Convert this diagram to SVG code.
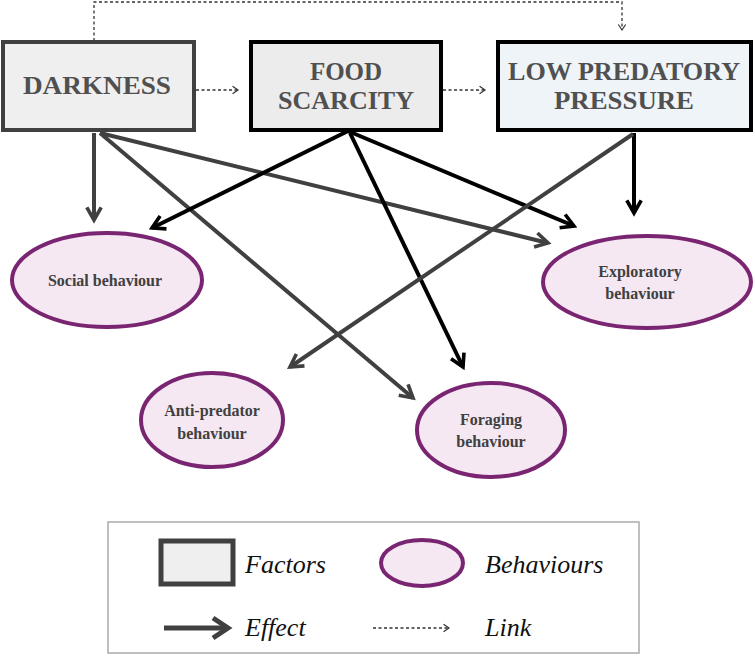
<svg xmlns="http://www.w3.org/2000/svg" width="755" height="656" viewBox="0 0 755 656">
<style>
text{font-family:'Liberation Serif','DejaVu Serif Condensed',serif}
.box{stroke-width:4}
.bt{font-weight:bold;font-size:25px;fill:#505050;text-anchor:middle}
.el{fill:#f5e8f3;stroke:#7a2572;stroke-width:4}
.et{font-weight:bold;font-size:16px;fill:#404040;text-anchor:middle}
.g{stroke:#404040;stroke-width:4;fill:none}
.k{stroke:#000;stroke-width:4;fill:none}
.d{stroke:#333;stroke-width:1.3;stroke-dasharray:3 2.5;fill:none}
.lt{font-style:italic;font-size:26px;fill:#111}
</style>
<defs>
<marker id="ag" viewBox="0 0 10 10" refX="8" refY="5" markerWidth="4.5" markerHeight="4.5" orient="auto" markerUnits="strokeWidth"><path d="M1,1 L8,5 L1,9" fill="none" stroke="#404040" stroke-width="2"/></marker>
<marker id="ak" viewBox="0 0 10 10" refX="8" refY="5" markerWidth="4.5" markerHeight="4.5" orient="auto" markerUnits="strokeWidth"><path d="M1,1 L8,5 L1,9" fill="none" stroke="#000" stroke-width="2"/></marker>
<marker id="ad" viewBox="0 0 10 10" refX="8" refY="5" markerWidth="7" markerHeight="7" orient="auto" markerUnits="strokeWidth"><path d="M2,1 L8,5 L2,9" fill="none" stroke="#333" stroke-width="1.3"/></marker>
</defs>
<g id="connectors">
<path class="d" d="M94,41 V2 H622 V30" marker-end="url(#ad)"/>
<path class="d" d="M196,90 H238" marker-end="url(#ad)"/>
<path class="d" d="M443,90 H485" marker-end="url(#ad)"/>
<path class="g" d="M94,133 L94,220" marker-end="url(#ag)"/>
<path class="g" d="M100,133 L548,243" marker-end="url(#ag)"/>
<path class="g" d="M100,133 L413,398" marker-end="url(#ag)"/>
<path class="k" d="M348,131 L152,228" marker-end="url(#ak)"/>
<path class="k" d="M348,131 L574,226" marker-end="url(#ak)"/>
<path class="k" d="M350,133 L463,367" marker-end="url(#ak)"/>
<path class="k" d="M634,133 L634,213" marker-end="url(#ak)"/>
<path class="g" d="M633,134 L290,367" marker-end="url(#ag)"/>
</g>
<g id="darkness"><rect class="box" x="3" y="42" width="191" height="88" fill="#efefef" stroke="#404040"/><text class="bt" x="97" y="94" textLength="148" lengthAdjust="spacingAndGlyphs">DARKNESS</text></g>
<g id="food"><rect class="box" x="251" y="42" width="190" height="88" fill="#ececec" stroke="#000"/><text class="bt" x="346" y="80">FOOD</text><text class="bt" x="346" y="109" textLength="136" lengthAdjust="spacingAndGlyphs">SCARCITY</text></g>
<g id="lowpred"><rect class="box" x="498" y="42" width="253" height="88" fill="#eff4f8" stroke="#000"/><text class="bt" x="624" y="80" textLength="232" lengthAdjust="spacingAndGlyphs">LOW PREDATORY</text><text class="bt" x="624" y="109" textLength="140" lengthAdjust="spacingAndGlyphs">PRESSURE</text></g>
<g id="social"><ellipse class="el" cx="107" cy="280" rx="95" ry="47"/><text class="et" x="105" y="286">Social behaviour</text></g>
<g id="exploratory"><ellipse class="el" cx="647" cy="282" rx="104" ry="46"/><text class="et" x="640" y="277">Exploratory</text><text class="et" x="640" y="299">behaviour</text></g>
<g id="antipredator"><ellipse class="el" cx="212" cy="420" rx="71" ry="47"/><text class="et" x="212" y="416">Anti-predator</text><text class="et" x="212" y="439">behaviour</text></g>
<g id="foraging"><ellipse class="el" cx="491" cy="430" rx="74" ry="47"/><text class="et" x="491" y="425">Foraging</text><text class="et" x="491" y="447">behaviour</text></g>
<g id="legend">
<rect x="108" y="522" width="531" height="131" fill="#fff" stroke="#aaa" stroke-width="1.5"/>
<rect x="161" y="541" width="72" height="43" fill="#efefef" stroke="#404040" stroke-width="5"/>
<text class="lt" x="245" y="573">Factors</text>
<ellipse cx="422" cy="563" rx="41" ry="23" fill="#f5e8f3" stroke="#7a2572" stroke-width="4"/>
<text class="lt" x="485" y="573">Behaviours</text>
<path d="M164,628 H225" stroke="#404040" stroke-width="5" fill="none"/>
<path d="M213,618 L228,628 L213,638" stroke="#404040" stroke-width="5" fill="none"/>
<text class="lt" x="245" y="636">Effect</text>
<path class="d" d="M373,628 H449" marker-end="url(#ad)"/>
<text class="lt" x="485" y="636">Link</text>
</g>
</svg>
